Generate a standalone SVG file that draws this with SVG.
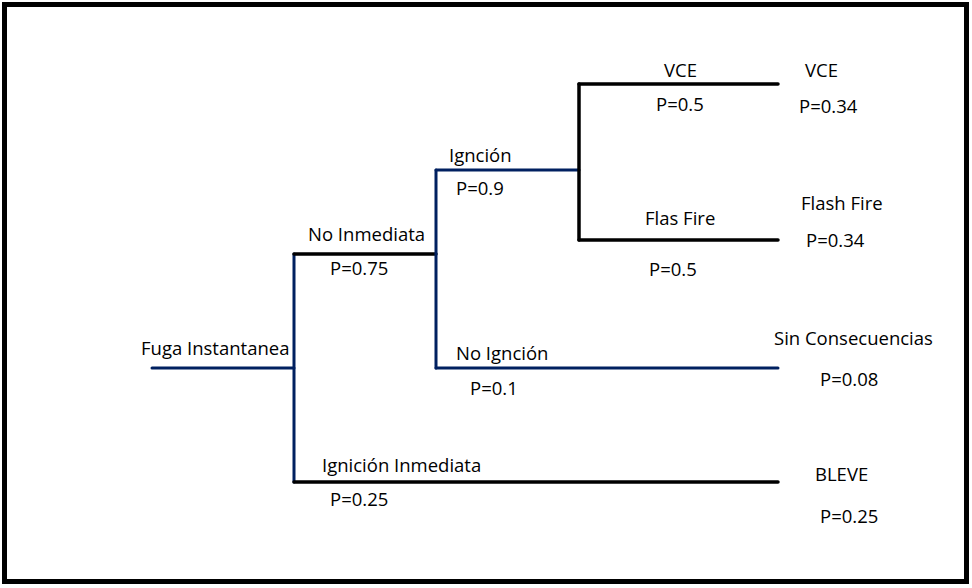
<svg xmlns="http://www.w3.org/2000/svg" width="972" height="588" viewBox="0 0 972 588">
<style>
text{font-family:"Open Sans","Liberation Sans",sans-serif;font-size:18.5px;fill:#000}
.b{stroke:#002060;stroke-width:3;fill:none;stroke-linecap:round}
.k{stroke:#000;stroke-width:3.5;fill:none;stroke-linecap:round}
</style>
<rect x="0" y="0" width="972" height="588" fill="#fff"/>
<rect x="4.5" y="4.5" width="962" height="577" fill="none" stroke="#000" stroke-width="5"/>
<g id="connectors">
<line class="b" x1="152" y1="368" x2="294" y2="368"/>
<line class="b" x1="294" y1="254" x2="294" y2="482"/>
<line class="k" x1="294" y1="254" x2="436" y2="254"/>
<line class="b" x1="436" y1="170" x2="436" y2="368"/>
<line class="b" x1="436" y1="170" x2="579" y2="170"/>
<line class="k" x1="579" y1="84" x2="579" y2="240"/>
<line class="k" x1="579" y1="84" x2="778" y2="84"/>
<line class="k" x1="579" y1="240" x2="778" y2="240"/>
<line class="b" x1="436" y1="368" x2="778" y2="368"/>
<line class="k" x1="294" y1="482" x2="778" y2="482"/>
</g>
<g id="fuga"><text x="141" y="355">Fuga Instantanea</text></g>
<g id="no-inmediata"><text x="308" y="241">No Inmediata</text><text x="330" y="275">P=0.75</text></g>
<g id="ignicion"><text x="449" y="162">Ignción</text><text x="456" y="195">P=0.9</text></g>
<g id="vce-branch"><text x="664" y="77">VCE</text><text x="656" y="111">P=0.5</text></g>
<g id="flas-branch"><text x="645" y="225">Flas Fire</text><text x="649" y="276">P=0.5</text></g>
<g id="no-ignicion"><text x="456" y="360">No Ignción</text><text x="470" y="395">P=0.1</text></g>
<g id="ignicion-inmediata"><text x="322" y="472">Ignición Inmediata</text><text x="330" y="506">P=0.25</text></g>
<g id="vce"><text x="805" y="77">VCE</text><text x="799" y="113">P=0.34</text></g>
<g id="flash-fire"><text x="801" y="210">Flash Fire</text><text x="806" y="247">P=0.34</text></g>
<g id="sin-consecuencias"><text x="774" y="345">Sin Consecuencias</text><text x="820" y="386">P=0.08</text></g>
<g id="bleve"><text x="815" y="481">BLEVE</text><text x="820" y="523">P=0.25</text></g>
</svg>
